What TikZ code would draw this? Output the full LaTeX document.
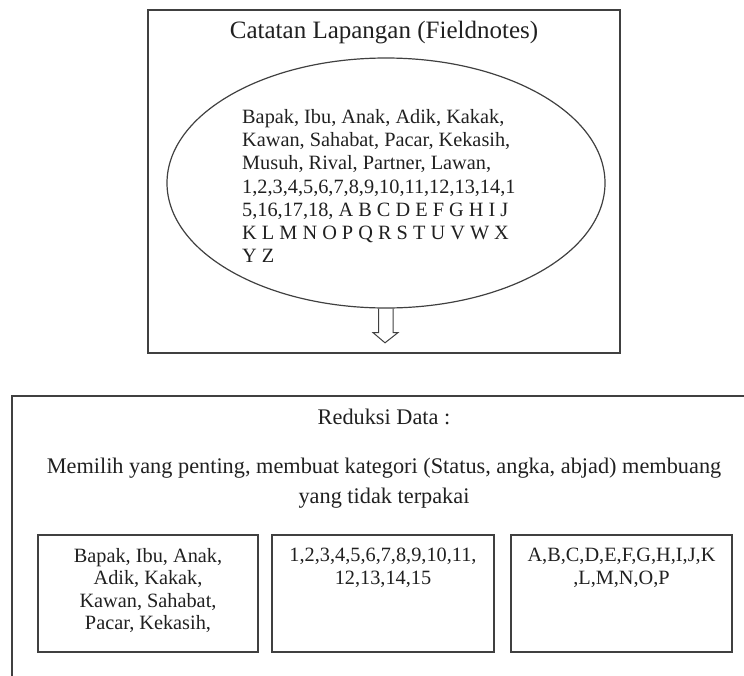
\documentclass[tikz,border=0pt]{standalone}
\usepackage{fontspec}
\setmainfont{Liberation Serif}
\usetikzlibrary{shapes.geometric,calc}
\definecolor{ln}{HTML}{404040}
\definecolor{tx}{HTML}{202020}
\tikzset{
  frame/.style={draw=ln, line width=1.6pt, rectangle, inner sep=0pt},
  oval/.style={draw=ln, line width=1.2pt, ellipse, inner sep=0pt},
  txt/.style={text=tx, inner sep=0pt},
  bigfont/.style={font=\fontsize{25}{30}\selectfont},
  midfont/.style={font=\fontsize{22.3}{30}\selectfont},
  smallfont/.style={font=\fontsize{20.3}{23.3}\selectfont},
  boxfont/.style={font=\fontsize{20.3}{22.5}\selectfont},
}
\begin{document}
\begin{tikzpicture}[x=1pt, y=-1pt]
\useasboundingbox (0,0) rectangle (744,675);
\clip (0,0) rectangle (744,675);
% top frame
\node[frame, minimum width=472pt, minimum height=343pt] (top) at (384,181.5) {};
\node[txt, bigfont] (title) at (384,33) {Catatan Lapangan (Fieldnotes)};
\node[oval, minimum width=438pt, minimum height=250pt] (ell) at (386,183) {};
\node[txt, smallfont, align=left, anchor=west] (elltext) at (242,186) {Bapak, Ibu, Anak, Adik, Kakak,\\
Kawan, Sahabat, Pacar, Kekasih,\\
Musuh, Rival, Partner, Lawan,\\
1,2,3,4,5,6,7,8,9,10,11,12,13,14,1\\
5,16,17,18, A B C D E F G H I J\\
K L M N O P Q R S T U V W X\\
Y Z};
% hollow arrow
\coordinate (tip) at ($(top.south)+(1,-11)$);
\draw[draw=ln, line width=1pt, line join=miter]
  ($(ell.south)+(-7.5,0)$) -- ($(ell.south)+(-7.5,24)$) -- ($(ell.south)+(-13,24)$)
  -- (tip) -- ($(ell.south)+(12,24)$) -- ($(ell.south)+(7,24)$) -- ($(ell.south)+(7,0)$);
% bottom frame
\node[frame, minimum width=744pt, minimum height=310pt] (bot) at (384,551) {};
\node[txt, midfont] (red) at (384,417) {Reduksi Data :};
\node[txt, midfont, align=center] (desc) at (384,483) {Memilih yang penting, membuat kategori (Status, angka, abjad) membuang\\ yang tidak terpakai};
% small boxes
\node[frame, minimum width=220pt, minimum height=117pt] (b1) at (148,593.5) {};
\node[frame, minimum width=222pt, minimum height=117pt] (b2) at (383,593.5) {};
\node[frame, minimum width=221pt, minimum height=117pt] (b3) at (621.5,593.5) {};
\node[txt, boxfont, align=center, anchor=north] (t1) at ($(b1.north)+(0,14)$) {Bapak, Ibu, Anak,\\ Adik, Kakak,\\ Kawan, Sahabat,\\ Pacar, Kekasih,};
\node[txt, boxfont, align=center, anchor=north] (t2) at ($(b2.north)+(0,14)$) {1,2,3,4,5,6,7,8,9,10,11,\\ 12,13,14,15};
\node[txt, boxfont, align=center, anchor=north] (t3) at ($(b3.north)+(0,14)$) {A,B,C,D,E,F,G,H,I,J,K\\ ,L,M,N,O,P};
\end{tikzpicture}
\end{document}
